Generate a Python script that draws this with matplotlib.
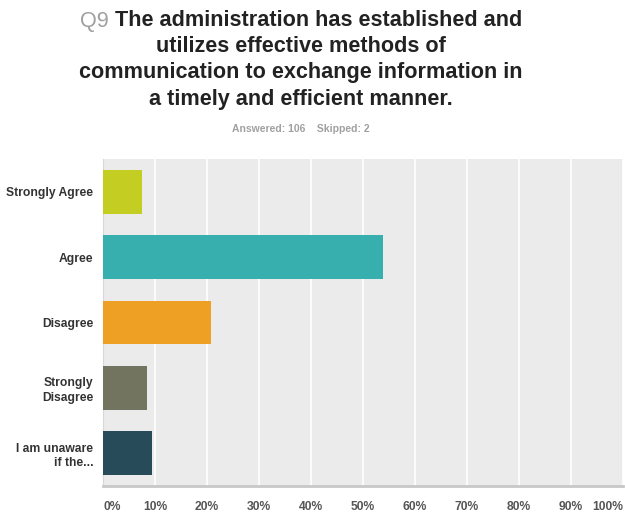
import matplotlib.pyplot as plt
import numpy as np

# Survey data (Q9) - percent of 106 answers
categories = ["Strongly Agree", "Agree", "Disagree", "Strongly\nDisagree", "I am unaware\nif the..."]
percents = [7.55, 53.77, 20.75, 8.49, 9.43]
colors = ["#c3cd22", "#37afae", "#eda023", "#73745f", "#284b59"]
tick_vals = [0, 10, 20, 30, 40, 50, 60, 70, 80, 90, 100]
tick_labels = ["0%", "10%", "20%", "30%", "40%", "50%", "60%", "70%", "80%", "90%", "100%"]

plt.rcParams["font.family"] = ["Liberation Sans", "DejaVu Sans"]

fig = plt.figure(figsize=(6.25, 5.14), dpi=100)
ax = fig.add_axes([103 / 625, 1 - 486 / 514, 520 / 625, 327 / 514])

y = np.arange(len(categories))
ax.barh(y, percents, height=0.67, color=colors, zorder=3)
ax.set_yticks(y)
ax.set_yticklabels(categories)
ax.set_ylim(len(categories) - 0.5, -0.5)
ax.set_xlim(0, 100)

ax.set_facecolor("#ebebeb")
ax.set_xticks(tick_vals)
ax.set_xticklabels(tick_labels)
ax.grid(axis="x", color="white", linewidth=1.2, zorder=1)
ax.tick_params(length=0)
ax.tick_params(axis="x", pad=11, labelsize=8.7, labelcolor="#555555")
ax.tick_params(axis="y", pad=7, labelsize=8.7, labelcolor="#333333")
for lbl in ax.get_xticklabels():
    lbl.set_fontweight("bold")
for lbl in ax.get_yticklabels():
    lbl.set_fontweight("bold")
    lbl.set_multialignment("right")
    lbl.set_linespacing(1.3)
xl = ax.get_xticklabels()
xl[0].set_horizontalalignment("left")
xl[-1].set_horizontalalignment("right")

for side in ["top", "right"]:
    ax.spines[side].set_visible(False)
ax.spines["left"].set_color("#d8d8d8")
ax.spines["bottom"].set_color("#c8c8c8")
ax.spines["bottom"].set_linewidth(2)

# Title
title_lines = [
    "utilizes effective methods of",
    "communication to exchange information in",
    "a timely and efficient manner.",
]
cx = 301 / 625
fs = 15.6
line_y = [21, 47, 73, 99]

fig.canvas.draw()
r = fig.canvas.get_renderer()
t1 = fig.text(0, 0, "Q9 ", fontsize=fs, color="#a0a0a0")
t2 = fig.text(0, 0, "The administration has established and", fontsize=fs,
              fontweight="bold", color="#222222")
w1 = t1.get_window_extent(r).width
w2 = t2.get_window_extent(r).width
x0 = cx * 625 - (w1 + w2) / 2
t1.set_position((x0 / 625, 1 - line_y[0] / 514))
t2.set_position(((x0 + w1) / 625, 1 - line_y[0] / 514))
t1.set_va("center")
t2.set_va("center")
for txt, ly in zip(title_lines, line_y[1:]):
    fig.text(cx, 1 - ly / 514, txt, fontsize=fs, fontweight="bold",
             color="#222222", ha="center", va="center")

fig.text(cx, 1 - 129 / 514, "Answered: 106    Skipped: 2", fontsize=7.5,
         fontweight="bold", color="#a0a0a0", ha="center", va="center")

fig.savefig("out.png", dpi=100)
